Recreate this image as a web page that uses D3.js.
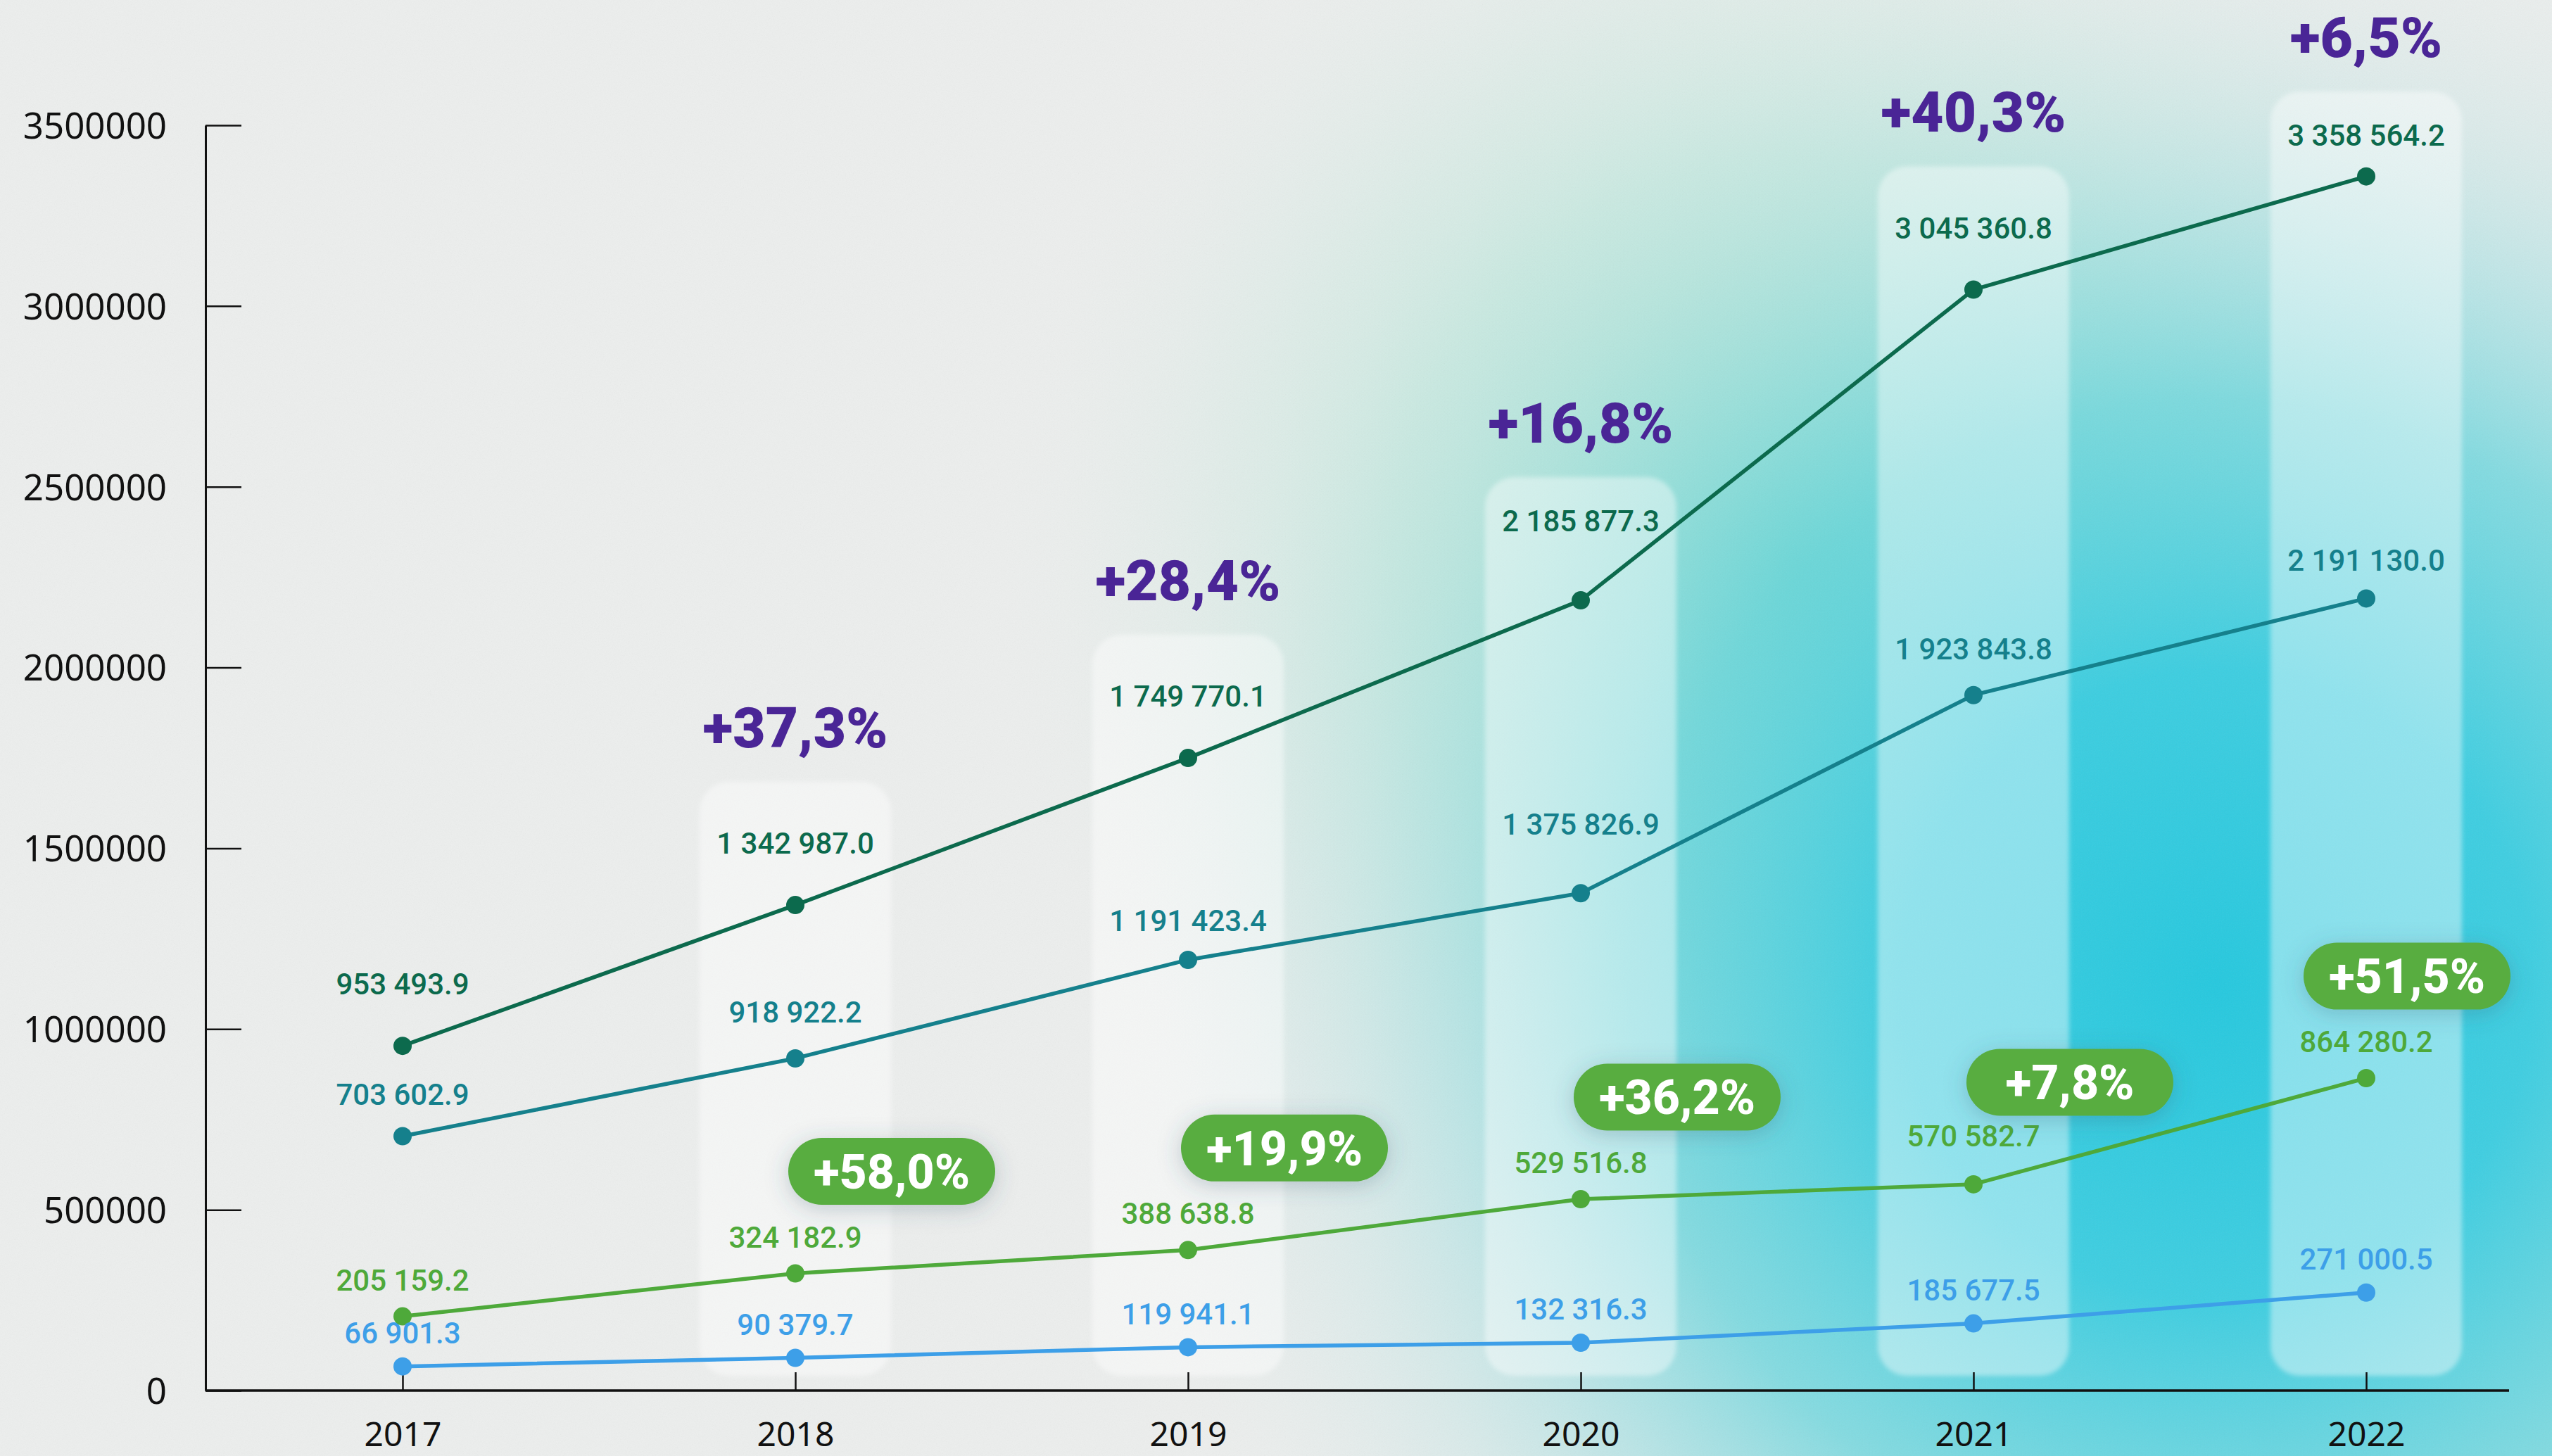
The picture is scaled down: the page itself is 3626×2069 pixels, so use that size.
<!DOCTYPE html>
<html>
<head>
<meta charset="utf-8">
<script src="https://cdn.jsdelivr.net/npm/d3@7"></script>
<style>
  html, body { margin: 0; padding: 0; background: #eceeed; }
  svg { display: block; }
</style>
</head>
<body>
<svg id="chart" width="3626" height="2069"></svg>
<script>
// ---------- DATA ----------
const years = [2017, 2018, 2019, 2020, 2021, 2022];
const seriesDark  = [953493.9, 1342987.0, 1749770.1, 2185877.3, 3045360.8, 3358564.2];
const seriesTeal  = [703602.9, 918922.2, 1191423.4, 1375826.9, 1923843.8, 2191130.0];
const seriesGreen = [205159.2, 324182.9, 388638.8, 529516.8, 570582.7, 864280.2];
const seriesBlue  = [66901.3, 90379.7, 119941.1, 132316.3, 185677.5, 271000.5];
const purpleGrowth = [null, 37.3, 28.4, 16.8, 40.3, 6.5];
const greenGrowth  = [null, 58.0, 19.9, 36.2, 7.8, 51.5];
const yTickValues = [0, 500000, 1000000, 1500000, 2000000, 2500000, 3000000, 3500000];

// ---------- SETUP ----------
const W = 3626, H = 2069;
const svg = d3.select('#chart');
const x = d3.scaleLinear().domain([2017, 2022]).range([572, 3362]);
const y = d3.scaleLinear().domain([0, 3500000]).range([1976, 178]);
const axisLeftX = 292, axisRightX = 3565;

const numLocale = d3.formatLocale({decimal: '.', thousands: ' ', grouping: [3], currency: ['', '']});
const fmtVal = numLocale.format(',.1f');
const pctLocale = d3.formatLocale({decimal: ',', thousands: ' ', grouping: [3], currency: ['', '']});
const fmtPct = v => '+' + pctLocale.format('.1f')(v) + '%';

const defs = svg.append('defs');

// background gradients
const g1 = defs.append('radialGradient').attr('id', 'bgCyan')
  .attr('gradientUnits', 'userSpaceOnUse').attr('cx', 3150).attr('cy', 1400).attr('r', 1600)
  .attr('gradientTransform', 'translate(3150,1400) scale(1.0,1.0) translate(-3150,-1400)');
[[0, '#26c8de', 1], [0.28, '#36cce0', 0.95], [0.52, '#62d4dc', 0.75], [0.78, '#b0e2e2', 0.32], [1, '#eceeed', 0]]
  .forEach(s => g1.append('stop').attr('offset', s[0]).attr('stop-color', s[1]).attr('stop-opacity', s[2]));
const g2 = defs.append('radialGradient').attr('id', 'bgMint')
  .attr('gradientUnits', 'userSpaceOnUse').attr('cx', 2550).attr('cy', 800).attr('r', 1150);
[[0, '#72d9c4', 0.85], [0.5, '#a6e4d2', 0.5], [1, '#eceeed', 0]]
  .forEach(s => g2.append('stop').attr('offset', s[0]).attr('stop-color', s[1]).attr('stop-opacity', s[2]));

// noise
const noise = defs.append('filter').attr('id', 'noise').attr('x', 0).attr('y', 0).attr('width', '100%').attr('height', '100%');
noise.append('feTurbulence').attr('type', 'fractalNoise').attr('baseFrequency', 0.8).attr('numOctaves', 2).attr('seed', 3);
noise.append('feColorMatrix').attr('type', 'saturate').attr('values', 0);

// soft column edges
const soft = defs.append('filter').attr('id', 'soft').attr('x', '-20%').attr('y', '-20%').attr('width', '140%').attr('height', '140%');
soft.append('feGaussianBlur').attr('stdDeviation', 3);

// pill shadow
const sh = defs.append('filter').attr('id', 'pillShadow').attr('x', '-30%').attr('y', '-60%').attr('width', '160%').attr('height', '220%');
sh.append('feDropShadow').attr('dx', 0).attr('dy', 6).attr('stdDeviation', 16).attr('flood-color', '#3a5a70').attr('flood-opacity', 0.28);

svg.append('rect').attr('width', W).attr('height', H).attr('fill', '#eceeed');
svg.append('rect').attr('width', W).attr('height', H).attr('fill', 'url(#bgMint)');
svg.append('rect').attr('width', W).attr('height', H).attr('fill', 'url(#bgCyan)');
svg.append('rect').attr('width', W).attr('height', H).attr('filter', 'url(#noise)').attr('opacity', 0.07);

// ---------- COLUMNS ----------
const colW = 272;
const colIdx = years.map((d, i) => i).filter(i => purpleGrowth[i] !== null);
const colTop = i => Math.max(130, y(seriesDark[i]) - 175);
svg.append('g').selectAll('rect').data(colIdx).join('rect')
  .attr('x', i => x(years[i]) - colW / 2)
  .attr('y', i => colTop(i))
  .attr('width', colW)
  .attr('height', i => (y(0) - 21) - colTop(i))
  .attr('rx', 42)
  .attr('fill', '#ffffff').attr('fill-opacity', 0.42)
  .attr('filter', 'url(#soft)');

// ---------- AXES ----------
const yAxis = d3.axisLeft(y).tickValues(yTickValues).tickFormat(d3.format('d'))
  .tickSizeInner(-51).tickSizeOuter(0).tickPadding(55);
const gy = svg.append('g').attr('transform', `translate(${axisLeftX},0)`).call(yAxis);
gy.select('.domain').attr('stroke', '#111').attr('stroke-width', 3);
gy.selectAll('.tick line').attr('stroke', '#111').attr('stroke-width', 2.5);
gy.selectAll('.tick text').attr('font-family', '"Noto Sans", sans-serif').attr('font-size', 51)
  .attr('fill', '#111').attr('dy', '0.36em');

const xAxis = d3.axisBottom(x).tickValues(years).tickFormat(d3.format('d')).tickSizeInner(-26).tickSizeOuter(0);
const gx = svg.append('g').attr('transform', `translate(0,${y(0)})`).call(xAxis);
gx.select('.domain').remove();
gx.append('line').attr('x1', axisLeftX).attr('x2', axisRightX).attr('y1', 0).attr('y2', 0)
  .attr('stroke', '#111').attr('stroke-width', 3.5);
gx.selectAll('.tick line').attr('stroke', '#111').attr('stroke-width', 2.5);
gx.selectAll('.tick text').attr('font-family', '"Noto Sans", sans-serif').attr('font-size', 48)
  .attr('fill', '#111').attr('y', 62).attr('dy', '0.36em');

// ---------- LINES ----------
const series = [
  {values: seriesDark,  color: '#0c6a4d', off: 88, dark: true},
  {values: seriesTeal,  color: '#15808c', off: 55},
  {values: seriesGreen, color: '#4ea93a', off: 52},
  {values: seriesBlue,  color: '#3d9fe8', off: 48}
];
const line = d3.line().x((d, i) => x(years[i])).y(d => y(d));
const step = x(years[1]) - x(years[0]);
// label sits above the point, lifted further when the next segment climbs steeply
function labelY(s, i) {
  const py = y(s.values[i]);
  let off = s.off;
  if (i < s.values.length - 1) {
    const rise = (py - y(s.values[i + 1])) / step * 125;
    off = Math.max(off, rise + 35);
  }
  let ly = py - off;
  if (s.dark && purpleGrowth[i] !== null) ly = Math.max(ly, colTop(i) + 62);
  return ly;
}
const gl = svg.append('g');
series.forEach(s => {
  gl.append('path').datum(s.values).attr('d', line).attr('fill', 'none')
    .attr('stroke', s.color).attr('stroke-width', 5.5).attr('stroke-linejoin', 'round');
  gl.append('g').selectAll('circle').data(s.values).join('circle')
    .attr('cx', (d, i) => x(years[i])).attr('cy', d => y(d)).attr('r', 13).attr('fill', s.color);
});
series.forEach(s => {
  gl.append('g').selectAll('text').data(s.values).join('text')
    .attr('x', (d, i) => x(years[i])).attr('y', (d, i) => labelY(s, i))
    .attr('dy', '0.36em').attr('text-anchor', 'middle')
    .attr('font-family', 'Roboto, sans-serif').attr('font-weight', 500).attr('font-size', 42)
    .attr('fill', s.color).text(d => fmtVal(d));
});

// ---------- GREEN PILLS ----------
const pillW = 294, pillH = 95;
const pillIdx = years.map((d, i) => i).filter(i => greenGrowth[i] !== null);
const pillCx = i => Math.min(x(years[i]) + 137, 3420);
const pillCy = i => y(seriesGreen[i]) - 145;
const gp = svg.append('g').selectAll('g').data(pillIdx).join('g')
  .attr('transform', i => `translate(${pillCx(i)},${pillCy(i)})`);
gp.append('rect').attr('x', -pillW / 2).attr('y', -pillH / 2).attr('width', pillW).attr('height', pillH)
  .attr('rx', pillH / 2).attr('fill', '#58ad3f').attr('filter', 'url(#pillShadow)');
gp.append('text').attr('text-anchor', 'middle').attr('dy', '0.36em')
  .attr('font-family', 'Roboto, sans-serif').attr('font-weight', 800).attr('font-size', 68)
  .attr('fill', '#ffffff').text(i => fmtPct(greenGrowth[i]));

// ---------- PURPLE GROWTH LABELS ----------
svg.append('g').selectAll('text').data(colIdx).join('text')
  .attr('x', i => x(years[i])).attr('y', i => colTop(i) - 78)
  .attr('dy', '0.36em').attr('text-anchor', 'middle')
  .attr('font-family', 'Roboto, sans-serif').attr('font-weight', 900).attr('font-size', 80)
  .attr('fill', '#4a2596').text(i => fmtPct(purpleGrowth[i]));
</script>
</body>
</html>
